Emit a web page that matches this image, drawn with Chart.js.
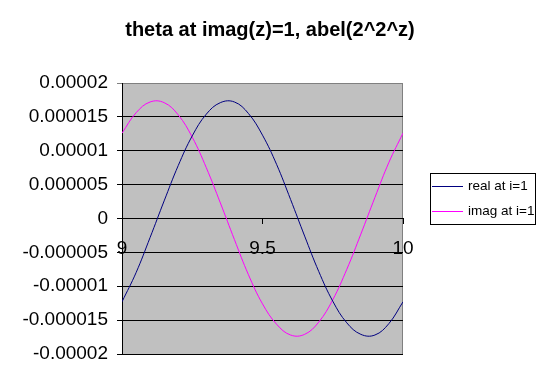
<!DOCTYPE html>
<html>
<head>
<meta charset="utf-8">
<script src="https://cdn.jsdelivr.net/npm/chart.js@4/dist/chart.umd.min.js"></script>
<style>
  html, body { margin: 0; padding: 0; background: #fff; }
  #wrap { width: 540px; height: 390px; position: relative; }
</style>
</head>
<body>
<div id="wrap"><canvas id="thetaChart"></canvas></div>
<script>
// values, step 0.05 along x
const xValues = [9, 9.05, 9.1, 9.15, 9.2, 9.25, 9.3, 9.35, 9.4, 9.45, 9.5,
  9.55, 9.6, 9.65, 9.7, 9.75, 9.8, 9.85, 9.9, 9.95, 10];
const realValues = [-12.3e-6, -8.0e-6, -2.8e-6, 2.6e-6, 7.8e-6, 12.2e-6, 15.4e-6,
  17.1e-6, 17.2e-6, 15.5e-6, 12.3e-6, 8.0e-6, 2.8e-6, -2.6e-6, -7.8e-6,
  -12.2e-6, -15.4e-6, -17.1e-6, -17.2e-6, -15.5e-6, -12.3e-6];
const imagValues = [12.6e-6, 15.6e-6, 17.2e-6, 17.1e-6, 15.3e-6, 12.0e-6, 7.5e-6,
  2.3e-6, -3.1e-6, -8.3e-6, -12.6e-6, -15.6e-6, -17.2e-6, -17.1e-6, -15.3e-6,
  -12.0e-6, -7.5e-6, -2.3e-6, 3.1e-6, 8.3e-6, 12.6e-6];
const seriesNames = ["real at i=1", "imag at i=1"];
const yTicks = [-0.00002, -0.000015, -0.00001, -0.000005, 0, 0.000005, 0.00001, 0.000015, 0.00002];
const yTickLabels = ["-0.00002", "-0.000015", "-0.00001", "-0.000005", "0",
  "0.000005", "0.00001", "0.000015", "0.00002"];
const xTicks = [9, 9.5, 10];
const xTickLabels = ["9", "9.5", "10"];

const FONT = "Arial, 'Liberation Sans', sans-serif";

// gray plot area + excel style frame
const plotBg = {
  id: "plotBg",
  beforeDraw(chart) {
    const { ctx, chartArea: a } = chart;
    ctx.save();
    ctx.fillStyle = "#c0c0c0";
    ctx.fillRect(a.left, a.top, a.right - a.left, a.bottom - a.top);
    ctx.strokeStyle = "#808080";
    ctx.lineWidth = 1;
    ctx.beginPath();
    ctx.moveTo(a.left, a.top + 0.5);
    ctx.lineTo(a.right - 0.5, a.top + 0.5);
    ctx.lineTo(a.right - 0.5, a.bottom);
    ctx.stroke();
    ctx.restore();
  }
};

// boxed legend on the right
const boxLegend = {
  id: "boxLegend",
  afterDraw(chart) {
    const { ctx } = chart;
    const x = 430.5, y = 173.5, w = 105, h = 51;
    ctx.save();
    ctx.fillStyle = "#fff";
    ctx.fillRect(x, y, w, h);
    ctx.strokeStyle = "#000";
    ctx.lineWidth = 1;
    ctx.strokeRect(x, y, w, h);
    ctx.font = "13.5px " + FONT;
    ctx.textBaseline = "middle";
    chart.data.datasets.forEach((ds, i) => {
      const ly = 186.5 + i * 25;
      ctx.strokeStyle = ds.borderColor;
      ctx.beginPath();
      ctx.moveTo(432, ly);
      ctx.lineTo(463, ly);
      ctx.stroke();
      ctx.fillStyle = "#000";
      ctx.fillText(ds.label, 468, ly);
    });
    ctx.restore();
  }
};

const ctx = document.getElementById("thetaChart").getContext("2d");

new Chart(ctx, {
  type: "line",
  data: {
    datasets: [
      {
        label: seriesNames[0],
        data: xValues.map((x, i) => ({ x: x, y: realValues[i] })),
        borderColor: "#000080",
        borderWidth: 1,
        pointRadius: 0,
        tension: 0.4,
      },
      {
        label: seriesNames[1],
        data: xValues.map((x, i) => ({ x: x, y: imagValues[i] })),
        borderColor: "#ff00ff",
        borderWidth: 1,
        pointRadius: 0,
        tension: 0.4,
      },
    ],
  },
  options: {
    responsive: true,
    maintainAspectRatio: false,
    animation: false,
    layout: {
      padding: { top: 0, right: 0, bottom: 36, left: 0 },
    },
    plugins: {
      legend: { display: false },
      tooltip: { enabled: false },
      title: {
        display: true,
        text: "theta at imag(z)=1, abel(2^2^z)",
        color: "#000",
        font: { family: FONT, size: 20, weight: "bold", lineHeight: 1.2 },
        padding: { top: 18, bottom: 41 },
      },
    },
    scales: {
      x: {
        type: "linear",
        position: { y: 0 },
        min: 9,
        max: 10,
        afterBuildTicks: (scale) => {
          scale.ticks = xTicks.map((v) => ({ value: v }));
        },
        ticks: {
          color: "#000",
          font: { family: FONT, size: 19 },
          padding: 14,
          maxRotation: 0,
          callback: (value, index) => xTickLabels[index],
        },
        grid: {
          drawOnChartArea: false,
          drawTicks: true,
          tickLength: 5,
          color: "#000",
        },
        border: { color: "#000", width: 1 },
      },
      y: {
        min: -0.00002,
        max: 0.00002,
        afterBuildTicks: (scale) => {
          scale.ticks = yTicks.map((v) => ({ value: v }));
        },
        afterFit: (scale) => {
          scale.width = 122;
        },
        ticks: {
          color: "#000",
          font: { family: FONT, size: 19 },
          padding: 9,
          callback: (value, index) => yTickLabels[index],
        },
        grid: {
          color: (c) => (c.tick && c.tick.value === 0.00002 ? "#808080" : "#000"),
          tickLength: 5,
          lineWidth: 1,
        },
        border: { color: "#000", width: 1 },
      },
      // empty axis that keeps room for the legend on the right
      legendRoom: {
        position: "right",
        min: 0,
        max: 1,
        afterFit: (scale) => {
          scale.width = 137;
        },
        ticks: { display: false },
        grid: { display: false },
        border: { display: false },
      },
    },
  },
  plugins: [plotBg, boxLegend],
});
</script>
</body>
</html>
